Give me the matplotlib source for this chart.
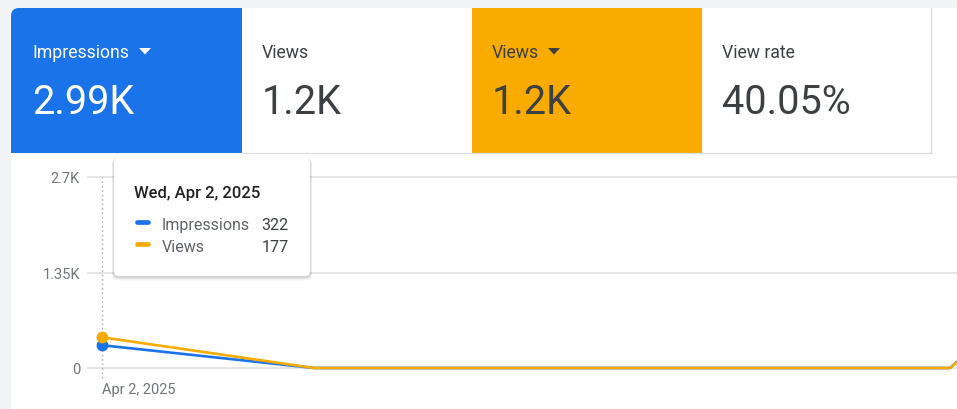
import matplotlib
matplotlib.use("Agg")
import matplotlib.pyplot as plt
from matplotlib.patches import FancyBboxPatch, Rectangle, Polygon
from matplotlib.lines import Line2D

plt.rcParams['font.family'] = ['Roboto', 'DejaVu Sans']

# ---- data ----
day_index = [0, 1, 2, 3, 4, 5]
x_tick_labels = ['Apr 2, 2025']
impressions = [322, 0, 0, 0, 0, 2668]
views = [177, 0, 0, 0, 0, 1023]
y_ticks = [0, 1350, 2700]
y_tick_labels = ['0', '1.35K', '2.7K']
card_labels = ['Impressions', 'Views', 'Views', 'View rate']
card_values = ['2.99K', '1.2K', '1.2K', '40.05%']
tooltip_title = 'Wed, Apr 2, 2025'
tooltip_series = ['Impressions', 'Views']
tooltip_values = ['322', '177']

BLUE = '#1a73e8'
ORANGE = '#f9ab00'
DARK = '#3c4043'
GREY_TXT = '#70757a'
GRID = '#e3e3e3'

W, H = 957, 410
fig = plt.figure(figsize=(W / 100, H / 100), dpi=100)
fig.patch.set_facecolor('#f1f3f4')

# background / cards layer in pixel coordinates
bg = fig.add_axes([0, 0, 1, 1], zorder=0)
bg.set_xlim(0, W)
bg.set_ylim(H, 0)
bg.axis('off')

bg.add_patch(FancyBboxPatch((11, 9), 1000, 500, boxstyle='round,pad=0,rounding_size=8',
                            fc='white', ec='none'))
# blue card with rounded top-left corner
bg.add_patch(FancyBboxPatch((11, 9), 231, 145, boxstyle='round,pad=0,rounding_size=8',
                            fc=BLUE, ec='none'))
bg.add_patch(Rectangle((30, 9), 212, 145, fc=BLUE, ec='none'))
bg.add_patch(Rectangle((11, 30), 231, 124, fc=BLUE, ec='none'))
# orange card
bg.add_patch(Rectangle((472, 9), 230, 145, fc=ORANGE, ec='none'))
# borders
bg.plot([242, 931], [154, 154], color='#dadce0', lw=0.9)
bg.plot([931, 931], [9, 154], color='#dadce0', lw=0.9)

card_x = [32, 262, 492, 722]
label_colors = ['white', DARK, DARK, DARK]
for cx, lab, val, col in zip(card_x, card_labels, card_values, label_colors):
    t = bg.text(cx, 58, lab, color=col, fontsize=12.7, va='baseline', ha='left')
    bg.text(cx, 114, val, color=col, fontsize=28.5, va='baseline', ha='left')

# dropdown triangles
for tx, col in [(139, 'white'), (548, DARK)]:
    bg.add_patch(Polygon([(tx, 49), (tx + 12, 49), (tx + 6, 55.5)], closed=True,
                         fc=col, ec='none'))

# ---- chart ----
x0_px, x1_px = 88, W
y0_px, y1_px = 369, 178
ax = fig.add_axes([x0_px / W, (H - y0_px) / H, (x1_px - x0_px) / W, (y0_px - y1_px) / H],
                  zorder=1)
ax.patch.set_alpha(0)
spacing = 212.0
xmin = (x0_px - 102) / spacing
xmax = (x1_px - 102) / spacing
ax.set_xlim(xmin, xmax)
ax.set_ylim(0, 2700)
for s in ax.spines.values():
    s.set_visible(False)
ax.set_yticks(y_ticks)
ax.set_yticklabels(y_tick_labels)
ax.tick_params(axis='y', length=0, pad=5.8, labelsize=10.5, labelcolor=GREY_TXT)
ax.set_xticks([day_index[0]])
ax.set_xticklabels(x_tick_labels, ha='left')
ax.tick_params(axis='x', length=0, pad=10, labelsize=10.5, labelcolor=GREY_TXT)
for yv in y_ticks:
    ax.axhline(yv, color=GRID, lw=1.3, zorder=0, clip_on=False)
ax.axvline(day_index[0], ymin=-0.05, ymax=1, color='#b0b4b8', lw=1, ls=(0, (1.2, 2)),
           clip_on=False, zorder=1)

ax.plot(day_index, impressions, color=BLUE, lw=1.9, clip_on=False, zorder=3,
        solid_joinstyle='round')
ax.plot(day_index[:1], impressions[:1], 'o', color=BLUE, ms=7.5, clip_on=False, zorder=4)

ax2 = ax.twinx()
ax2.set_ylim(0, 1100)
ax2.axis('off')
ax2.plot(day_index, views, color=ORANGE, lw=1.9, clip_on=False, zorder=3,
         solid_joinstyle='round')
ax2.plot(day_index[:1], views[:1], 'o', color=ORANGE, ms=7.5, clip_on=False, zorder=4)

# ---- tooltip overlay ----
ov = fig.add_axes([0, 0, 1, 1], zorder=5)
ov.set_xlim(0, W)
ov.set_ylim(H, 0)
ov.axis('off')
ov.patch.set_alpha(0)
bx, by, bw, bh = 114, 159, 196, 118
for i, a in enumerate([0.05, 0.05, 0.04, 0.03]):
    d = i + 1
    ov.add_patch(FancyBboxPatch((bx - d * 0.6, by - d * 0.3 + 1), bw + d * 1.2, bh + d * 1.2,
                                boxstyle='round,pad=0,rounding_size=6', fc='black',
                                ec='none', alpha=a))
ov.add_patch(FancyBboxPatch((bx, by), bw, bh, boxstyle='round,pad=0,rounding_size=5',
                            fc='white', ec='none'))
ov.text(134, 198, tooltip_title, fontsize=12, fontweight='medium', color='#202124',
        va='baseline', ha='left')
for i, (nm, vv, col) in enumerate(zip(tooltip_series, tooltip_values, [BLUE, ORANGE])):
    yc = 223 + i * 22
    ov.add_line(Line2D([137, 148], [yc, yc], color=col, lw=3.4, solid_capstyle='round'))
    ov.text(162, yc + 7, nm, fontsize=11.5, color='#5f6368', va='baseline', ha='left')
    ov.text(289, yc + 7, vv, fontsize=11.5, color='#3c4043', va='baseline', ha='right')

fig.savefig('out.png', dpi=100, facecolor=fig.get_facecolor())
